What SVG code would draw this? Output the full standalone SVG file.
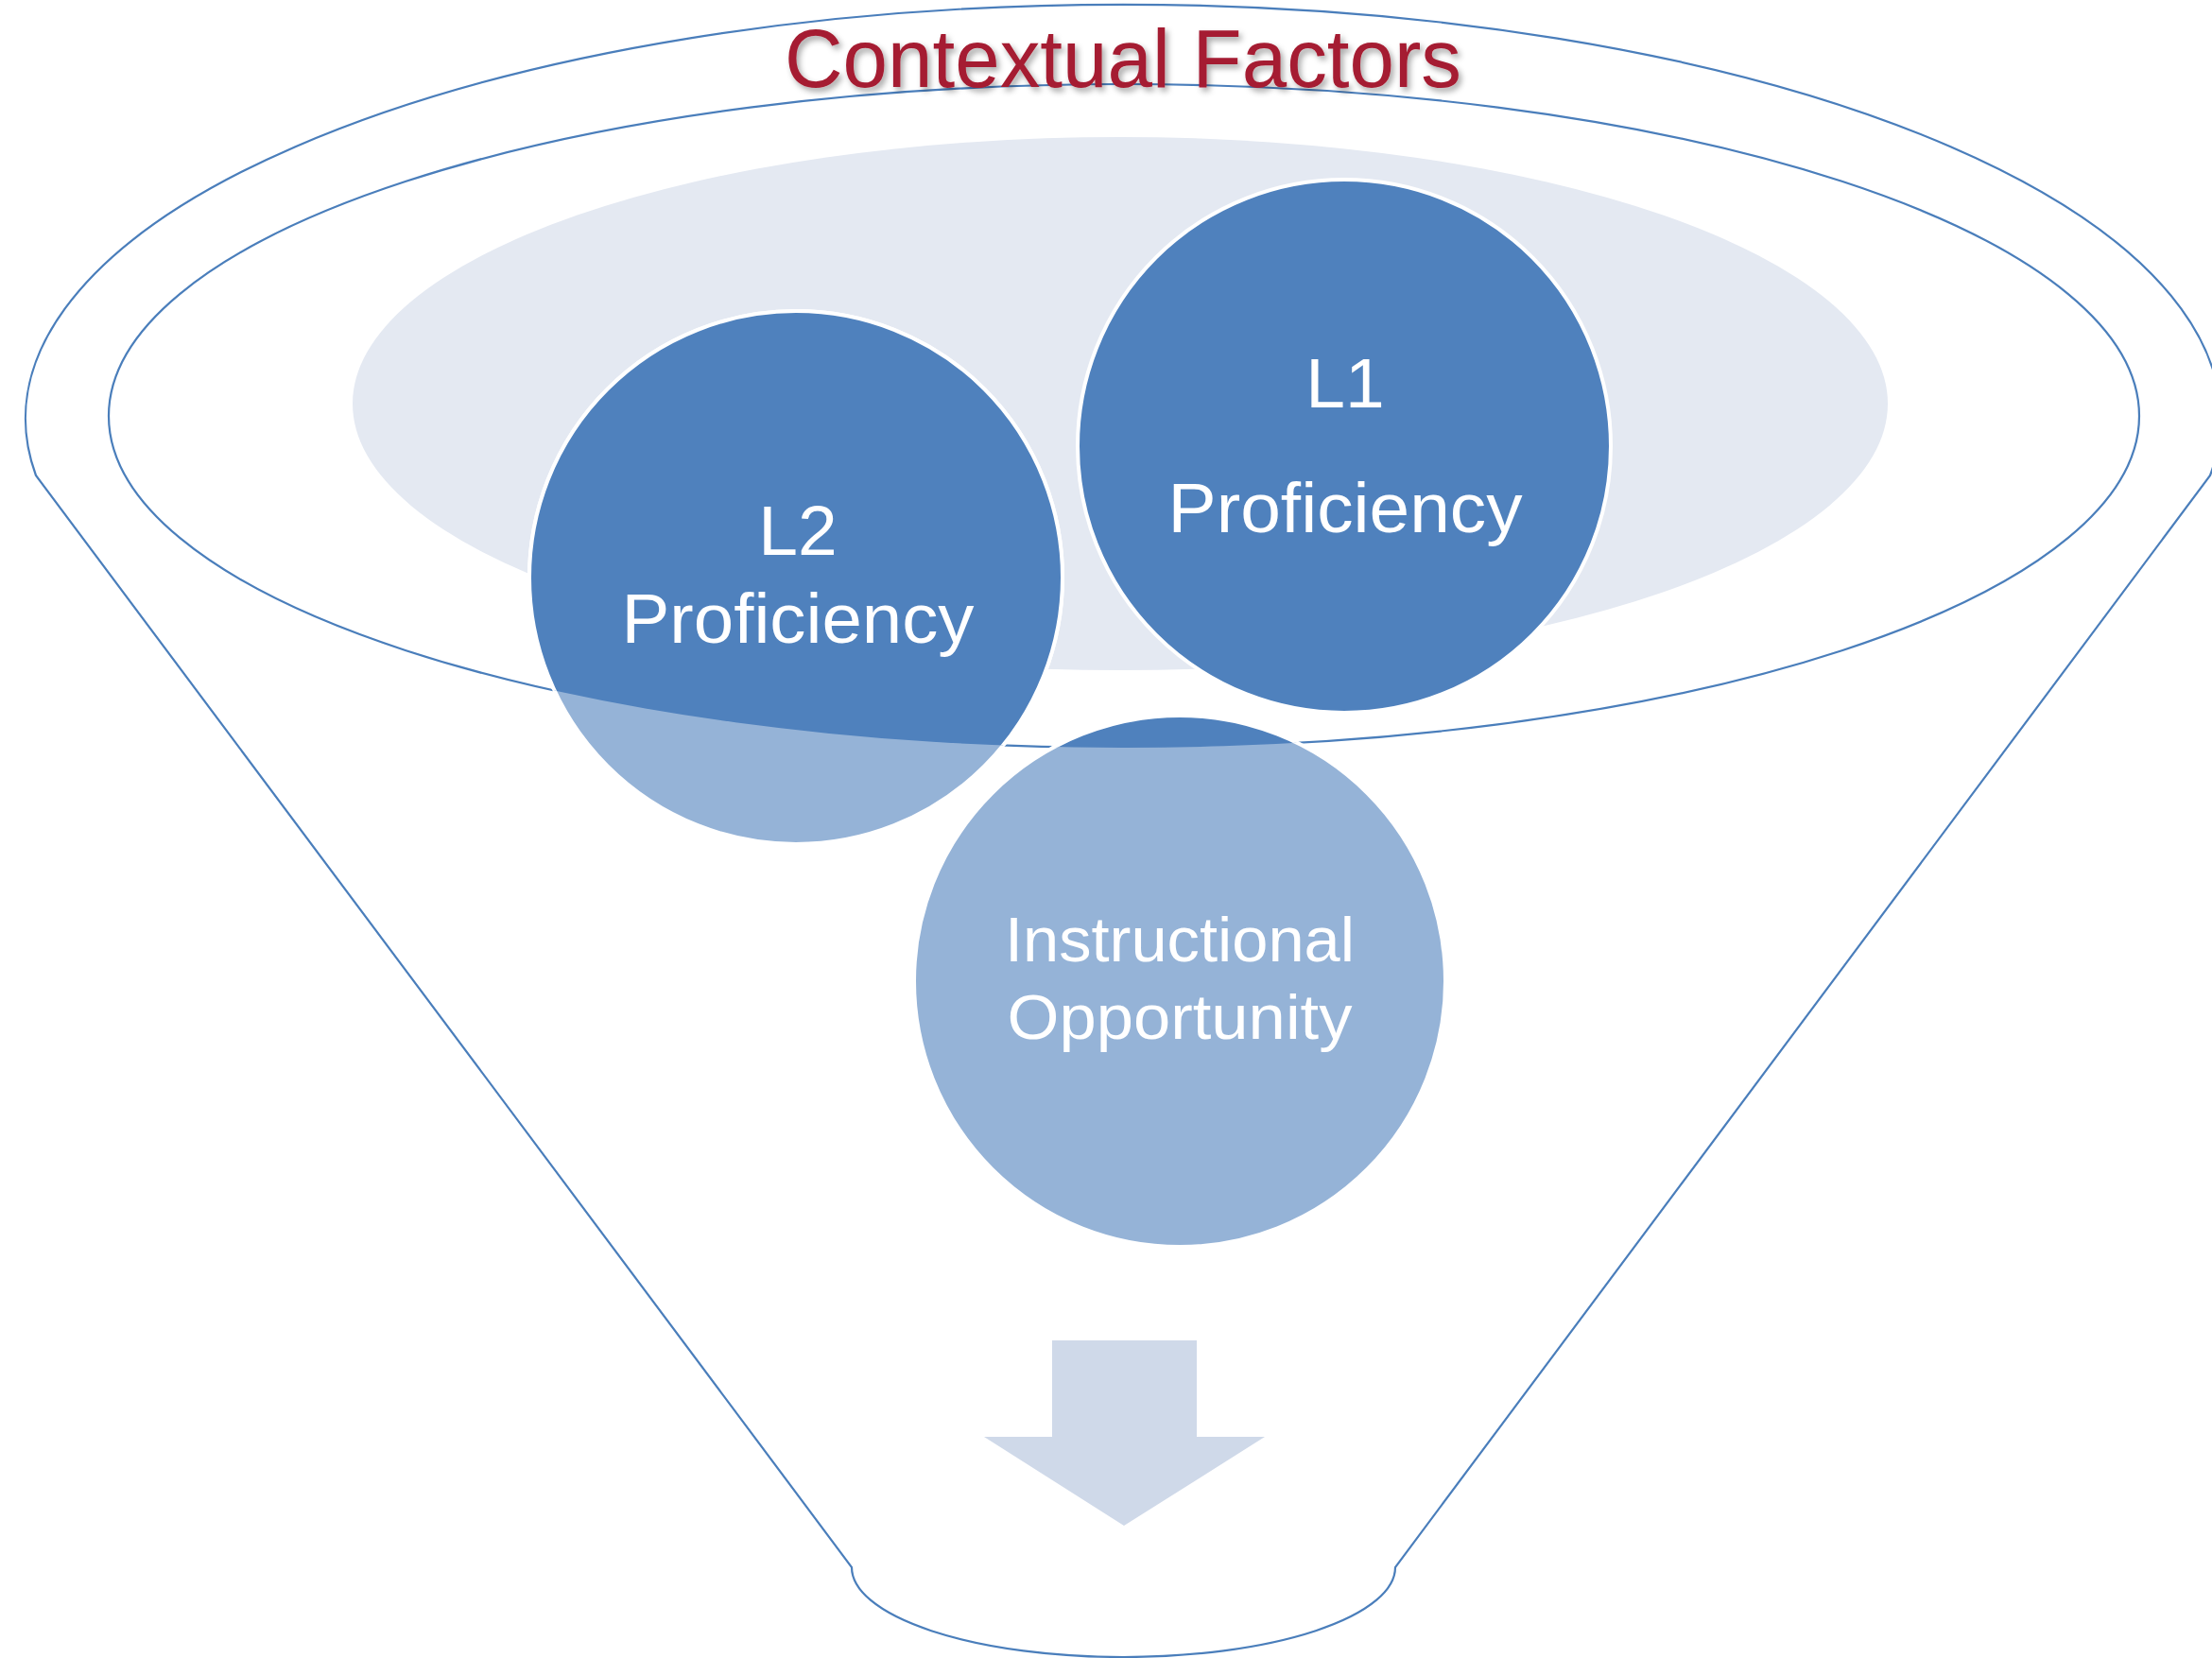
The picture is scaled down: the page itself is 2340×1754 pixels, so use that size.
<svg xmlns="http://www.w3.org/2000/svg" width="2340" height="1754" viewBox="0 0 2340 1754">
  <defs>
    <style>
      .line { fill: none; stroke: #4A7EBB; stroke-width: 2.2; }
      .light { fill: #95B3D7; stroke: #FFFFFF; stroke-width: 4; }
      .dark { fill: #4F81BD; stroke: #FFFFFF; stroke-width: 4; }
      .lbl { font-family: "Liberation Sans", Arial, sans-serif; fill: #FFFFFF; text-anchor: middle; }
      .title { font-family: "Liberation Sans", Arial, sans-serif; fill: #A51C30; text-anchor: middle; }
    </style>
    <clipPath id="innerClip">
      <ellipse cx="1189" cy="440" rx="1074" ry="351"/>
    </clipPath>
    <filter id="shadow" x="-10%" y="-30%" width="120%" height="160%">
      <feDropShadow dx="3" dy="4" stdDeviation="3" flood-color="#000000" flood-opacity="0.35"/>
    </filter>
  </defs>
  <rect width="2340" height="1754" fill="#FFFFFF"/>

  <g id="funnel">
    <path class="line" d="M 38 503 A 1161 438 0 1 1 2338 503 L 1476 1658 A 287.5 95 0 0 1 901 1658 Z"/>
    <ellipse class="line" cx="1189" cy="440" rx="1074" ry="351"/>
  </g>

  <g id="context-area">
    <ellipse cx="1185" cy="427" rx="812" ry="282" fill="#E4E9F2"/>
  </g>

  <g id="connectors"></g>

  <g id="node-l2">
    <circle class="light" cx="842" cy="611" r="282"/>
    <circle class="dark" cx="842" cy="611" r="282" clip-path="url(#innerClip)"/>
    <text class="lbl" x="844" y="587" font-size="75">L2</text>
    <text class="lbl" x="844" y="680" font-size="74" textLength="373" lengthAdjust="spacingAndGlyphs">Proficiency</text>
  </g>

  <g id="node-l1">
    <circle class="dark" cx="1422" cy="472" r="282"/>
    <text class="lbl" x="1423" y="431" font-size="75">L1</text>
    <text class="lbl" x="1423" y="563" font-size="74" textLength="375" lengthAdjust="spacingAndGlyphs">Proficiency</text>
  </g>

  <g id="node-instructional">
    <circle class="light" cx="1248" cy="1038" r="281"/>
    <circle class="dark" cx="1248" cy="1038" r="281" clip-path="url(#innerClip)"/>
    <text class="lbl" x="1248" y="1017" font-size="66" textLength="370" lengthAdjust="spacingAndGlyphs">Instructional</text>
    <text class="lbl" x="1248" y="1099" font-size="66" textLength="365" lengthAdjust="spacingAndGlyphs">Opportunity</text>
  </g>

  <g id="arrow">
    <polygon points="1113,1418 1266,1418 1266,1520 1338,1520 1189,1614 1041,1520 1113,1520" fill="#CFD9E9"/>
  </g>

  <g id="title">
    <text class="title" x="1188" y="92" font-size="87" textLength="716" lengthAdjust="spacingAndGlyphs" filter="url(#shadow)">Contextual Factors</text>
  </g>
</svg>
